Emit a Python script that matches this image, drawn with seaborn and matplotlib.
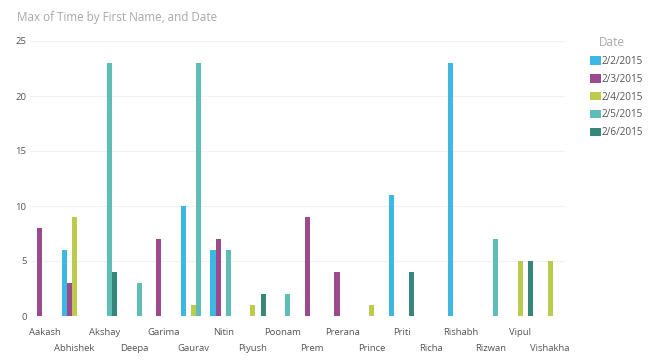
import numpy as np
import pandas as pd
import matplotlib
matplotlib.use("Agg")
import matplotlib.pyplot as plt
import seaborn as sns
from matplotlib.patches import Patch

# ==========================
# DATA
# ==========================
names = [
    "Aakash", "Abhishek", "Akshay", "Deepa", "Garima", "Gaurav",
    "Nitin", "Piyush", "Poonam", "Prem", "Prerana", "Prince",
    "Priti", "Richa", "Rishabh", "Rizwan", "Vipul", "Vishakha"
]
dates = ["2/2/2015", "2/3/2015", "2/4/2015", "2/5/2015", "2/6/2015"]

nan = np.nan
d_0202 = [nan, 6, nan, nan, nan, 10, 6, nan, nan, nan, nan, nan, 11, nan, 23, nan, nan, nan]
d_0203 = [8, 3, nan, nan, 7, nan, 7, nan, nan, 9, 4, nan, nan, nan, nan, nan, nan, nan]
d_0204 = [nan, 9, nan, nan, nan, 1, nan, 1, nan, nan, nan, 1, nan, nan, nan, nan, 5, 5]
d_0205 = [nan, nan, 23, 3, nan, 23, 6, nan, 2, nan, nan, nan, nan, nan, nan, 7, nan, nan]
d_0206 = [nan, nan, 4, nan, nan, nan, nan, 2, nan, nan, nan, nan, 4, nan, nan, nan, 5, nan]

colors = ["#3DB7E4", "#9C4A8E", "#BCCB4D", "#5FBDB8", "#368779"]

rows = []
for date, vals in zip(dates, [d_0202, d_0203, d_0204, d_0205, d_0206]):
    for name, v in zip(names, vals):
        rows.append({"First Name": name, "Date": date, "Time": v})
df = pd.DataFrame(rows)

# ==========================
# PLOT
# ==========================
sns.set_theme(style="white")
plt.rcParams["font.family"] = ["Open Sans", "DejaVu Sans"]

fig = plt.figure(figsize=(6.5, 3.64), dpi=100)
ax = fig.add_axes([30 / 650, 1 - 316 / 364, 535 / 650, 275 / 364])

sns.barplot(
    data=df, x="First Name", y="Time", hue="Date",
    order=names, hue_order=dates, palette=colors,
    width=0.86, gap=0, errorbar=None, ax=ax, legend=False,
    saturation=1, linewidth=0
)

ax.set_ylim(0, 25)
ax.set_xlim(-0.5, len(names) - 0.5)
ax.set_yticks([0, 5, 10, 15, 20, 25])
ax.yaxis.grid(True, color="#f2f2f2", linewidth=0.8)
ax.set_axisbelow(True)
for s in ax.spines.values():
    s.set_visible(False)
ax.set_xlabel("")
ax.set_ylabel("")

ax.set_xticks(range(len(names)))
ax.set_xticklabels(names)
for i, lbl in enumerate(ax.get_xticklabels()):
    lbl.set_fontsize(6.8)
    lbl.set_color("#555555")
    lbl.set_y(-0.035 if i % 2 == 0 else -0.09)
ax.tick_params(axis="x", length=0, pad=2)
ax.tick_params(axis="y", length=0, pad=2.5, labelsize=6.8, labelcolor="#555555")

fig.text(17 / 650, 1 - 18 / 364, "Max of Time by First Name, and Date",
         fontsize=8.4, color="#a8a8a8", va="center", ha="left")

# legend
fig.text(612 / 650, 1 - 43 / 364, "Date", fontsize=8.5, color="#a8a8a8",
         ha="center", va="center")
handles = [Patch(facecolor=c, edgecolor="none") for c in colors]
fig.legend(handles, dates, loc="upper left", bbox_to_anchor=(590 / 650, 1 - 56 / 364),
           frameon=False, fontsize=7.2, handlelength=1.1, handleheight=0.9,
           handletextpad=0.1, labelspacing=0.68, labelcolor="#555555",
           borderaxespad=0, borderpad=0)

fig.savefig("out.png", dpi=100)
